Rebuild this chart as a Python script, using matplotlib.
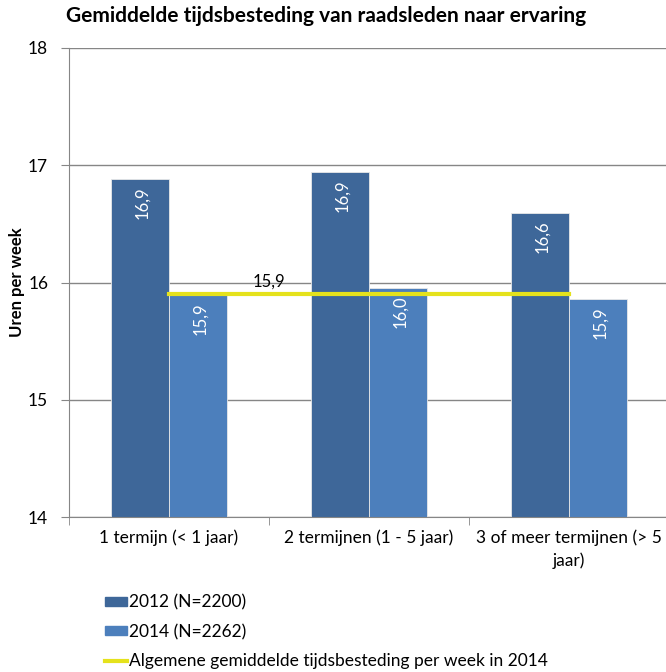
import numpy as np
import matplotlib.pyplot as plt
from matplotlib.patches import Patch
from matplotlib.lines import Line2D

plt.rcParams['font.family'] = ['Lato', 'DejaVu Sans']

categories = ["1 termijn (< 1 jaar)", "2 termijnen (1 - 5 jaar)", "3 of meer termijnen (> 5\njaar)"]
v2012 = [16.88, 16.94, 16.59]
v2014 = [15.89, 15.95, 15.86]
labels2012 = ["16,9", "16,9", "16,6"]
labels2014 = ["15,9", "16,0", "15,9"]
gemiddeld = [15.9, 15.9, 15.9]
gem_label = "15,9"

c2012 = '#3E6799'
c2014 = '#4C7FBC'
cgeel = '#E5E21C'

fig = plt.figure(figsize=(6.66, 6.72), dpi=100)
ax = fig.add_axes([69 / 666, 1 - 517 / 672, 600 / 666, 469 / 672])

x = np.arange(len(categories))
w = 0.29
ax.bar(x - w / 2, np.array(v2012) - 14, w, bottom=14, color=c2012,
       edgecolor='#e8e8e8', linewidth=0.6, zorder=2)
ax.bar(x + w / 2, np.array(v2014) - 14, w, bottom=14, color=c2014,
       edgecolor='#e8e8e8', linewidth=0.6, zorder=2)

for xi, v, lab in zip(x - w / 2, v2012, labels2012):
    ax.text(xi + 0.01, v - 0.06, lab, rotation=90, ha='center', va='top',
            color='white', fontsize=12, zorder=3)
for xi, v, lab in zip(x + w / 2, v2014, labels2014):
    ax.text(xi + 0.01, v - 0.06, lab, rotation=90, ha='center', va='top',
            color='white', fontsize=12, zorder=3)

ax.plot(x, gemiddeld, color=cgeel, lw=3, zorder=4)
ax.text(0.5, gemiddeld[0] + 0.04, gem_label, ha='center', va='bottom', fontsize=12)

ax.set_ylim(14, 18)
ax.set_xlim(-0.5, 2.5)
ax.set_yticks([14, 15, 16, 17, 18])
ax.tick_params(axis='y', labelsize=12.5, length=6, color='#868686', pad=9)
ax.grid(axis='y', color='#868686', lw=1, zorder=0)
ax.set_axisbelow(True)

ax.set_xticks(x)
ax.set_xticklabels(categories, fontsize=12.5, linespacing=1.5)
ax.set_xticks([-0.5, 0.5, 1.5, 2.5], minor=True)
ax.tick_params(axis='x', which='major', length=0, pad=9)
ax.tick_params(axis='x', which='minor', length=6, color='#868686')

for s in ['top', 'right']:
    ax.spines[s].set_visible(False)
ax.spines['left'].set_color('#868686')
ax.spines['bottom'].set_color('#868686')

ax.set_ylabel("Uren per week", fontsize=12, fontweight='bold')
ax.yaxis.set_label_coords(-44 / 600, 0.5)
fig.text(0.49, 1 - 16 / 672, "Gemiddelde tijdsbesteding van raadsleden naar ervaring",
         ha='center', va='center', fontsize=15, fontweight='bold')

handles = [Patch(color=c2012), Patch(color=c2014), Line2D([0], [0], color=cgeel, lw=3)]
texts = ["2012 (N=2200)", "2014 (N=2262)", "Algemene gemiddelde tijdsbesteding per week in 2014"]
fig.legend(handles, texts, loc='upper left', bbox_to_anchor=(96 / 666, 1 - 586 / 672),
           frameon=False, fontsize=12.5, handlelength=1.3, handleheight=0.45,
           handletextpad=0.1, labelspacing=0.75, borderpad=0)

fig.savefig('out.png', dpi=100)
